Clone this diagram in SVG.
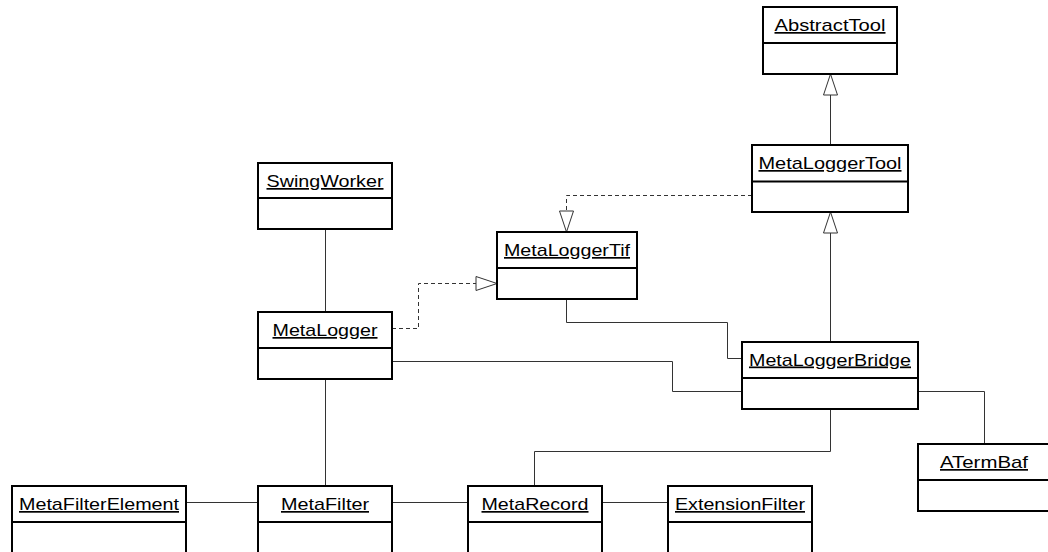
<svg xmlns="http://www.w3.org/2000/svg" width="1048" height="552" viewBox="0 0 1048 552">
  <style>
    .box { fill: #ffffff; stroke: #000000; stroke-width: 2; }
    .div { stroke: #000000; stroke-width: 2; }
    .name { font-family: "Liberation Sans", Arial, sans-serif; font-size: 17px; fill: #000000; text-anchor: middle; text-decoration: underline; }
    .assoc { fill: none; stroke: #333333; stroke-width: 1; }
    .dep { fill: none; stroke: #333333; stroke-width: 1; stroke-dasharray: 4 3; }
    .head { fill: #ffffff; stroke: #333333; stroke-width: 1; }
  </style>
  <rect width="1048" height="552" fill="#ffffff"/>

  <!-- connectors -->
  <g id="connectors">
    <!-- generalizations -->
    <path class="assoc" d="M830.5,145 V95"/>
    <polygon class="head" points="830.5,74 823.5,95 837.5,95"/>
    <path class="assoc" d="M830.5,342 V233"/>
    <polygon class="head" points="830.5,212 823.5,233 837.5,233"/>
    <!-- realizations -->
    <path class="dep" d="M752,195.5 H566.5 V211"/>
    <polygon class="head" points="566.5,232 559.5,211 573.5,211"/>
    <path class="dep" d="M392,328.5 H418.5 V283.5 H476"/>
    <polygon class="head" points="497,283.5 476,276.5 476,290.5"/>
    <!-- associations -->
    <path class="assoc" d="M325.5,229 V312"/>
    <path class="assoc" d="M566.5,299 V322.5 H727.5 V358.5 H742"/>
    <path class="assoc" d="M392,361.5 H672.5 V391.5 H742"/>
    <path class="assoc" d="M918,391.5 H984.5 V444"/>
    <path class="assoc" d="M830.5,409 V451.5 H534.5 V486"/>
    <path class="assoc" d="M325.5,379 V486"/>
    <path class="assoc" d="M186,502.5 H258"/>
    <path class="assoc" d="M392,502.5 H468"/>
    <path class="assoc" d="M602,502.5 H668"/>
  </g>

  <g id="AbstractTool">
    <rect class="box" x="763" y="7" width="134" height="67"/>
    <line class="div" x1="763" y1="43" x2="897" y2="43"/>
    <text class="name" x="830" y="31" textLength="111" lengthAdjust="spacingAndGlyphs">AbstractTool</text>
  </g>

  <g id="MetaLoggerTool">
    <rect class="box" x="752" y="145" width="156" height="67"/>
    <line class="div" x1="752" y1="181.5" x2="908" y2="181.5"/>
    <text class="name" x="830" y="169" textLength="143" lengthAdjust="spacingAndGlyphs">MetaLoggerTool</text>
  </g>

  <g id="SwingWorker">
    <rect class="box" x="258" y="163" width="134" height="66"/>
    <line class="div" x1="258" y1="198" x2="392" y2="198"/>
    <text class="name" x="325" y="187" textLength="117" lengthAdjust="spacingAndGlyphs">SwingWorker</text>
  </g>

  <g id="MetaLoggerTif">
    <rect class="box" x="497" y="232" width="140" height="67"/>
    <line class="div" x1="497" y1="268" x2="637" y2="268"/>
    <text class="name" x="567" y="256" textLength="126" lengthAdjust="spacingAndGlyphs">MetaLoggerTif</text>
  </g>

  <g id="MetaLogger">
    <rect class="box" x="258" y="312" width="134" height="67"/>
    <line class="div" x1="258" y1="348" x2="392" y2="348"/>
    <text class="name" x="325" y="336" textLength="105" lengthAdjust="spacingAndGlyphs">MetaLogger</text>
  </g>

  <g id="MetaLoggerBridge">
    <rect class="box" x="742" y="342" width="176" height="67"/>
    <line class="div" x1="742" y1="378" x2="918" y2="378"/>
    <text class="name" x="830" y="365.5" textLength="162" lengthAdjust="spacingAndGlyphs">MetaLoggerBridge</text>
  </g>

  <g id="ATermBaf">
    <rect class="box" x="918" y="444" width="134" height="67"/>
    <line class="div" x1="918" y1="480" x2="1052" y2="480"/>
    <text class="name" x="984" y="468" textLength="88" lengthAdjust="spacingAndGlyphs">ATermBaf</text>
  </g>

  <g id="MetaFilterElement">
    <rect class="box" x="12" y="486" width="174" height="68"/>
    <line class="div" x1="12" y1="522" x2="186" y2="522"/>
    <text class="name" x="99" y="510" textLength="160" lengthAdjust="spacingAndGlyphs">MetaFilterElement</text>
  </g>

  <g id="MetaFilter">
    <rect class="box" x="258" y="486" width="134" height="68"/>
    <line class="div" x1="258" y1="522" x2="392" y2="522"/>
    <text class="name" x="325" y="510" textLength="88" lengthAdjust="spacingAndGlyphs">MetaFilter</text>
  </g>

  <g id="MetaRecord">
    <rect class="box" x="468" y="486" width="134" height="68"/>
    <line class="div" x1="468" y1="522" x2="602" y2="522"/>
    <text class="name" x="535" y="510" textLength="107" lengthAdjust="spacingAndGlyphs">MetaRecord</text>
  </g>

  <g id="ExtensionFilter">
    <rect class="box" x="668" y="486" width="144" height="68"/>
    <line class="div" x1="668" y1="522" x2="812" y2="522"/>
    <text class="name" x="740" y="510" textLength="130" lengthAdjust="spacingAndGlyphs">ExtensionFilter</text>
  </g>
</svg>
